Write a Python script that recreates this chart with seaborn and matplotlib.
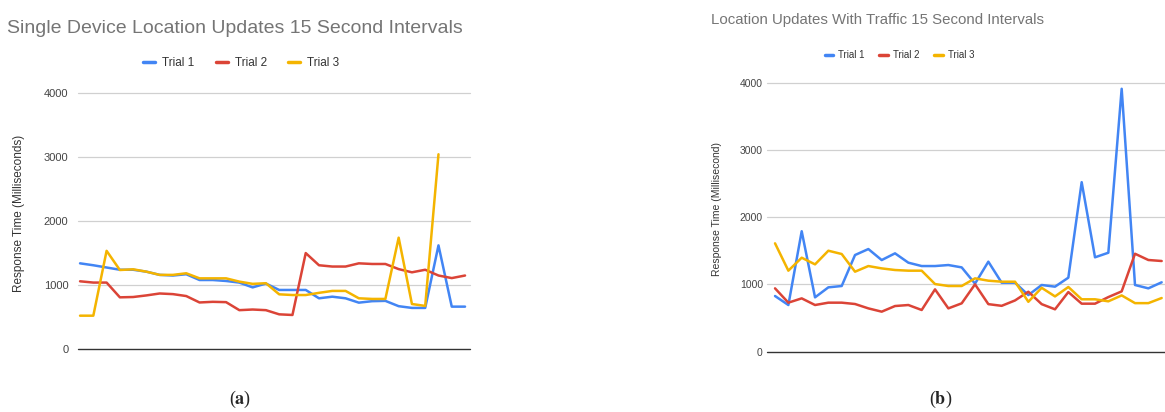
import numpy as np
import pandas as pd
import matplotlib
matplotlib.use("Agg")
import matplotlib.pyplot as plt
import seaborn as sns

# ---- data (response time in ms, 30 updates each) ----
trials = ["Trial 1", "Trial 2", "Trial 3"]

single_trial1 = [1340, 1310, 1275, 1240, 1240, 1210, 1160, 1150, 1170, 1080,
                 1080, 1065, 1040, 965, 1025, 925, 925, 925, 795, 820,
                 795, 727, 750, 755, 672, 645, 645, 1620, 665, 665]
single_trial2 = [1060, 1040, 1040, 810, 815, 840, 870, 860, 830, 730,
                 740, 735, 610, 620, 610, 545, 535, 1500, 1310, 1290,
                 1290, 1340, 1330, 1330, 1250, 1200, 1240, 1150, 1110, 1150]
single_trial3 = [524, 524, 1535, 1236, 1247, 1210, 1160, 1160, 1185, 1106,
                 1106, 1106, 1055, 1020, 1030, 857, 846, 846, 880, 910,
                 910, 795, 785, 785, 1740, 706, 676, 3040, np.nan, np.nan]

traffic_trial1 = [826, 692, 1790, 806, 955, 975, 1436, 1525, 1361, 1461,
                  1322, 1272, 1272, 1287, 1252, 1010, 1337, 1024, 1024, 840,
                  990, 965, 1099, 2520, 1402, 1470, 3910, 990, 940, 1030]
traffic_trial2 = [940, 727, 791, 692, 727, 727, 707, 642, 593, 677,
                  692, 618, 925, 642, 717, 1000, 705, 680, 760, 890,
                  705, 628, 885, 712, 712, 810, 895, 1455, 1362, 1347]
traffic_trial3 = [1610, 1203, 1396, 1297, 1500, 1451, 1188, 1272, 1237, 1213,
                  1203, 1203, 1004, 975, 975, 1089, 1054, 1039, 1039, 740,
                  948, 820, 960, 777, 777, 747, 835, 720, 720, 796]

y_ticks = [0, 1000, 2000, 3000, 4000]
colors = ["#4285F4", "#DB4437", "#F4B400"]


def to_long(series):
    rows = []
    for name, vals in zip(trials, series):
        for i, v in enumerate(vals):
            rows.append({"update": i, "ms": v, "trial": name})
    return pd.DataFrame(rows)


single_df = to_long([single_trial1, single_trial2, single_trial3])
traffic_df = to_long([traffic_trial1, traffic_trial2, traffic_trial3])

sns.set_theme(style="white")
plt.rcParams["font.family"] = ["Liberation Sans", "DejaVu Sans"]
plt.rcParams["mathtext.fontset"] = "stix"

fig = plt.figure(figsize=(11.65, 4.12), dpi=100)
ax_a = fig.add_axes([0.0670, 0.1522, 0.3365, 0.6228])
ax_b = fig.add_axes([0.6584, 0.1468, 0.3416, 0.6524])


def style_axis(ax, df, xlim, ylabel, label_x, tick_size, tick_pad, label_size):
    sns.lineplot(data=df, x="update", y="ms", hue="trial", palette=colors,
                 linewidth=1.8, ax=ax, legend=False, zorder=3)
    ax.set_xlim(*xlim)
    ax.set_ylim(0, 4000)
    for s in ax.spines.values():
        s.set_visible(False)
    for y in y_ticks[1:]:
        ax.axhline(y, color="#d0d0d0", lw=0.9, zorder=0, clip_on=False)
    ax.axhline(0, color="#333333", lw=1.0, zorder=1, clip_on=False)
    ax.set_xticks([])
    ax.set_xlabel("")
    ax.set_yticks(y_ticks)
    ax.set_yticklabels([str(t) for t in y_ticks])
    ax.tick_params(axis="y", length=0, pad=tick_pad, labelsize=tick_size,
                   labelcolor="#444444")
    ax.set_ylabel(ylabel, fontsize=label_size, color="#333333")
    ax.yaxis.set_label_coords(label_x, 0.53)


style_axis(ax_a, single_df, (-0.15, 29.38), "Response Time (Milliseconds)",
           -0.135, 8, 7, 8.5)
style_axis(ax_b, traffic_df, (-0.6, 29.25), "Response Time (Millisecond)",
           -0.112, 7.5, 3, 7.5)

# titles
fig.text(0.2017, 0.932, "Single Device Location Updates 15 Second Intervals",
         ha="center", va="center", fontsize=14, color="#757575")
fig.text(0.753, 0.951, "Location Updates With Traffic 15 Second Intervals",
         ha="center", va="center", fontsize=10.8, color="#757575")

# legends
handles = [plt.Line2D([0], [0], color=c, lw=2.5) for c in colors]
fig.legend(handles, trials, loc="center", bbox_to_anchor=(0.207, 0.847),
           ncol=3, frameon=False, fontsize=8.5, handlelength=1.0,
           handletextpad=0.6, columnspacing=1.8, labelcolor="#333333")
fig.legend(handles, trials, loc="center", bbox_to_anchor=(0.772, 0.866),
           ncol=3, frameon=False, fontsize=7, handlelength=0.9,
           handletextpad=0.5, columnspacing=1.5, labelcolor="#333333")

# panel captions
fig.text(0.206, 0.03, r"($\mathbf{a}$)", ha="center", va="center",
         fontsize=13, family="Liberation Serif")
fig.text(0.807, 0.03, r"($\mathbf{b}$)", ha="center", va="center",
         fontsize=13, family="Liberation Serif")

fig.savefig("out.png", dpi=100)
